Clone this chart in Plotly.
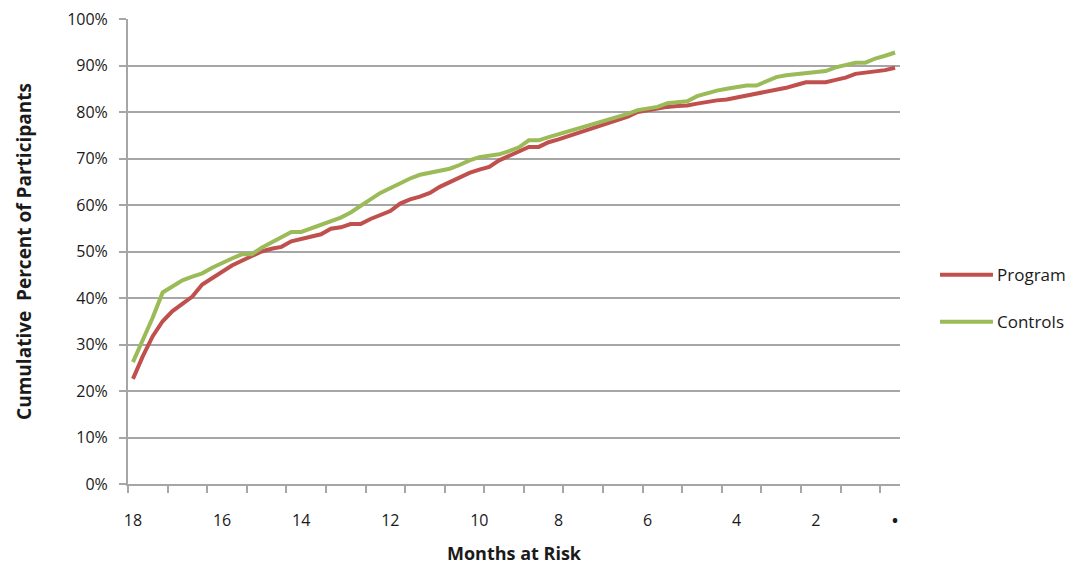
import plotly.graph_objects as go

# Cumulative percent of participants, one value per week of follow-up
program = [
    22.6, 27.5, 31.8, 35.0, 37.2, 38.8, 40.3, 42.9, 44.2, 45.5,
    47.0, 48.0, 49.1, 50.0, 50.6, 51.0, 52.2, 52.7, 53.2, 53.7,
    54.9, 55.2, 55.9, 55.9, 57.0, 57.8, 58.7, 60.3, 61.2, 61.8,
    62.6, 63.9, 64.9, 65.8, 66.9, 67.6, 68.2, 69.6, 70.6, 71.6,
    72.5, 72.5, 73.5, 74.1, 74.8, 75.5, 76.2, 76.8, 77.4, 78.3,
    79.0, 80.0, 80.4, 80.8, 81.1, 81.3, 81.4, 81.8, 82.2, 82.5,
    82.7, 83.1, 83.5, 84.0, 84.3, 84.7, 85.2, 85.8, 86.4, 86.4,
    86.4, 86.9, 87.4, 88.2, 88.5, 88.6, 89.0, 89.5,
]
controls = [
    26.2, 31.0, 35.8, 41.2, 42.6, 43.8, 44.6, 45.3, 46.5, 47.6,
    48.5, 49.4, 49.4, 50.8, 52.0, 53.0, 54.2, 54.2, 55.0, 55.9,
    56.6, 57.3, 58.4, 59.7, 61.2, 62.6, 63.7, 64.8, 65.7, 66.5,
    66.9, 67.3, 67.8, 68.6, 69.6, 70.3, 70.6, 70.9, 71.6, 72.4,
    73.9, 73.9, 74.6, 75.2, 75.9, 76.6, 77.2, 77.8, 78.4, 79.0,
    79.6, 80.4, 80.8, 81.1, 81.9, 82.2, 82.3, 83.4, 84.1, 84.6,
    85.0, 85.4, 85.7, 85.7, 86.7, 87.5, 87.9, 88.1, 88.5, 88.6,
    88.8, 89.6, 90.2, 90.6, 90.6, 91.5, 92.1, 92.8,
]
weeks = list(range(len(program)))

# Month-at-risk labels and the weeks they sit on
month_labels = ["18", "16", "14", "12", "10", "8", "6", "4", "2", "<b>•</b>"]
month_weeks = [0, 9, 17, 26, 35, 43, 52, 61, 69, 77]

series_names = ["Program", "Controls"]
series_colors = ["#C0504D", "#9BBB59"]

GRID = "#A6A6A6"
TEXT = "#1a1a1a"
FONT = "Open Sans, Liberation Sans, sans-serif"

fig = go.Figure()
for name, vals, color in zip(series_names, [program, controls], series_colors):
    fig.add_trace(go.Scatter(
        x=weeks, y=[v / 100 for v in vals], name=name, mode="lines",
        line=dict(color=color, width=4), showlegend=False,
    ))

# Legend drawn beside the plot area
legend_y = [0.45, 0.349]
for name, color, ly in zip(series_names, series_colors, legend_y):
    fig.add_shape(type="line", xref="paper", yref="paper",
                  x0=1.0518, x1=1.1204, y0=ly, y1=ly,
                  line=dict(color=color, width=4))
    fig.add_annotation(xref="paper", yref="paper", x=1.1225, y=ly,
                       text=name, showarrow=False, xanchor="left", yanchor="middle",
                       font=dict(family=FONT, size=17, color=TEXT))

fig.update_layout(
    width=1092, height=565,
    margin=dict(l=127.5, r=192, t=19, b=80.5),
    paper_bgcolor="white", plot_bgcolor="white",
    font=dict(family=FONT, size=16, color=TEXT),
)

fig.update_xaxes(
    range=[-0.5, 77.5], automargin=False,
    tickmode="array", tickvals=month_weeks, ticktext=month_labels,
    ticks="outside", ticklen=21, tickcolor="rgba(0,0,0,0)",
    tickfont=dict(family=FONT, size=16, color=TEXT),
    showgrid=False, zeroline=False,
    showline=True, linecolor=GRID, linewidth=2,
    minor=dict(tickmode="linear", tick0=-0.5, dtick=4, ticks="outside",
               ticklen=7, tickcolor=GRID, tickwidth=2, showgrid=False),
    title=dict(text="<b>Months at Risk</b>", standoff=22,
               font=dict(family=FONT, size=18, color=TEXT)),
)

fig.update_yaxes(
    range=[0, 1], tickformat=".0%", dtick=0.1, automargin=False,
    ticks="outside", ticklen=7, tickcolor=GRID, tickwidth=2,
    ticklabelstandoff=8,
    tickfont=dict(family=FONT, size=16, color=TEXT),
    showgrid=True, gridcolor=GRID, gridwidth=2, zeroline=False,
    showline=True, linecolor=GRID, linewidth=2,
    title=dict(text="<b>Cumulative  Percent of Participants</b>", standoff=30,
               font=dict(family=FONT, size=19, color=TEXT)),
)

fig.write_html("out.html")
